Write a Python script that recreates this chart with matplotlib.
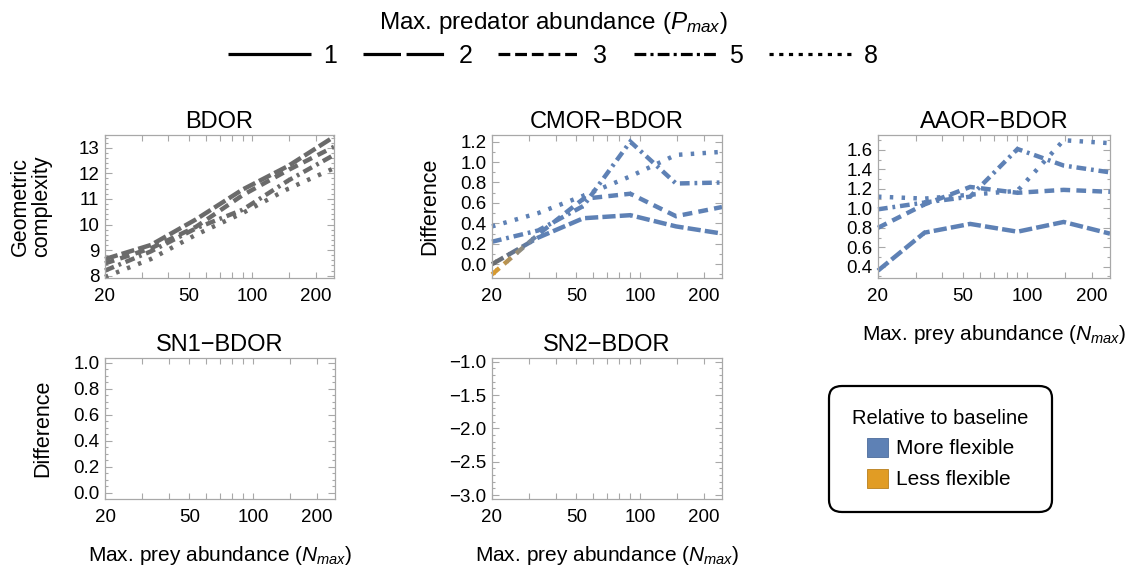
import numpy as np
import matplotlib
matplotlib.use('Agg')
import matplotlib.pyplot as plt
from matplotlib.lines import Line2D
from matplotlib.patches import Patch, Rectangle
from matplotlib.ticker import MultipleLocator, FixedLocator, FixedFormatter, FuncFormatter, NullLocator
from matplotlib.colors import to_rgb

plt.rcParams['font.family'] = ['Liberation Sans', 'DejaVu Sans']
plt.rcParams['mathtext.fontset'] = 'custom'
plt.rcParams['mathtext.rm'] = 'Liberation Sans'
plt.rcParams['mathtext.it'] = 'Liberation Sans:italic'
plt.rcParams['lines.scale_dashes'] = False

# ---- data ----
N_VALUES = [20, 33, 54, 90, 148, 244]          # max. prey abundance
P_LEVELS = [1, 2, 3, 5, 8]                      # max. predator abundance
X_TICKS = [20, 30, 40, 50, 60, 70, 80, 90, 100, 150, 200]
X_TICK_LABELS = ['20', '', '', '50', '', '', '', '', '100', '', '200']

# BDOR: geometric complexity (P=1 is not drawn in any panel)
bdor_p2 = [8.65, 9.20, 10.20, 11.37, 12.29, 13.43]
bdor_p3 = [8.48, 9.07, 9.91, 11.15, 12.13, 13.04]
bdor_p5 = [8.20, 8.95, 9.85, 10.58, 11.72, 12.72]
bdor_p8 = [7.95, 8.65, 9.60, 10.45, 11.40, 12.20]

# CMOR - BDOR differences
cmor_p2 = [0.00, 0.26, 0.45, 0.48, 0.37, 0.30]
cmor_p3 = [-0.10, 0.29, 0.64, 0.69, 0.47, 0.56]
cmor_p5 = [0.22, 0.33, 0.57, 1.20, 0.79, 0.80]
cmor_p8 = [0.37, 0.50, 0.67, 0.86, 1.07, 1.10]

# AAOR - BDOR differences
aaor_p2 = [0.36, 0.75, 0.84, 0.76, 0.86, 0.74]
aaor_p3 = [0.80, 1.04, 1.22, 1.16, 1.19, 1.17]
aaor_p5 = [0.99, 1.06, 1.12, 1.61, 1.44, 1.37]
aaor_p8 = [1.12, 1.10, 1.14, 1.18, 1.70, 1.67]

BLUE = '#5e81b5'
ORANGE = '#e19c24'
GRAY = '#6b6b6b'
FRAME = '#a8a8a8'

# dash patterns in points (panel lines / legend lines)
LINE_DASH = {2: (9.5, 3.0), 3: (7.0, 4.5), 5: (7.0, 3.5, 2.0, 3.5), 8: (2.5, 6.0)}
LEGEND_DASH = {1: None, 2: (27, 4), 3: (8.5, 3.5), 5: (8.5, 3, 2.2, 3), 8: (3, 4)}

W, H = 1133, 571
fig = plt.figure(figsize=(W / 100, H / 100), dpi=100)


def add_panel(left, top, right, bottom):
    return fig.add_axes([left / W, 1 - bottom / H, (right - left) / W, (bottom - top) / H])


def point_color(v, baseline):
    if baseline:
        return GRAY
    if v > 0.05:
        return BLUE
    if v < -0.05:
        return ORANGE
    return GRAY


def draw_series(ax, y, p, baseline=False):
    cols = [np.array(to_rgb(point_color(v, baseline))) for v in y]
    # colour can shift between two points -> draw clipped copies in thin strips
    for i in range(len(N_VALUES) - 1):
        n = 1 if np.allclose(cols[i], cols[i + 1]) else 14
        edges = np.geomspace(N_VALUES[i], N_VALUES[i + 1], n + 1)
        for k in range(n):
            t = (k + 0.5) / n
            c = (1 - t) * cols[i] + t * cols[i + 1]
            line, = ax.plot(N_VALUES, y, color=c, lw=3.2, dashes=LINE_DASH[p],
                            dash_capstyle='butt', dash_joinstyle='miter')
            x0 = edges[k] * (0.9 if k == 0 and i == 0 else 1.0)
            x1 = edges[k + 1] * (1.2 if (k == n - 1 and i == len(N_VALUES) - 2) else 1.003)
            strip = Rectangle((x0, -1), x1 - x0, 3, transform=ax.get_xaxis_transform())
            line.set_clip_path(strip)


def style_axes(ax, ylim, major, minor, fmt):
    ax.set_xscale('log')
    ax.set_xlim(N_VALUES[0], N_VALUES[-1])
    ax.xaxis.set_major_locator(FixedLocator(X_TICKS))
    ax.xaxis.set_major_formatter(FixedFormatter(X_TICK_LABELS))
    ax.xaxis.set_minor_locator(NullLocator())
    ax.set_ylim(*ylim)
    ax.yaxis.set_major_locator(MultipleLocator(major))
    ax.yaxis.set_minor_locator(MultipleLocator(minor))
    ax.yaxis.set_major_formatter(FuncFormatter(lambda v, _: (fmt % v).replace('-', '\u2212')))
    ax.tick_params(axis='both', which='both', direction='in', top=True, right=True,
                   color=FRAME, labelsize=13.5, width=0.8)
    ax.tick_params(axis='x', which='major', length=4, pad=7)
    ax.tick_params(axis='y', which='major', length=5, pad=4)
    ax.tick_params(axis='y', which='minor', length=2.5)
    for s in ax.spines.values():
        s.set_color(FRAME)
        s.set_linewidth(0.9)


ax_bdor = add_panel(105, 135, 334, 278)
ax_cmor = add_panel(492, 135, 722, 278)
ax_aaor = add_panel(878, 135, 1110, 278)
ax_sn1 = add_panel(105, 358, 335, 499)
ax_sn2 = add_panel(492, 358, 722, 499)

style_axes(ax_bdor, (7.91, 13.5), 1, 0.2, '%d')
style_axes(ax_cmor, (-0.135, 1.265), 0.2, 0.1, '%.1f')
style_axes(ax_aaor, (0.284, 1.754), 0.2, 0.1, '%.1f')
style_axes(ax_sn1, (-0.048, 1.036), 0.2, 0.05, '%.1f')
style_axes(ax_sn2, (-3.06, -0.945), 0.5, 0.1, '%.1f')

for p, y in zip([2, 3, 5, 8], [bdor_p2, bdor_p3, bdor_p5, bdor_p8]):
    draw_series(ax_bdor, y, p, baseline=True)
for p, y in zip([2, 3, 5, 8], [cmor_p2, cmor_p3, cmor_p5, cmor_p8]):
    draw_series(ax_cmor, y, p)
for p, y in zip([2, 3, 5, 8], [aaor_p2, aaor_p3, aaor_p5, aaor_p8]):
    draw_series(ax_aaor, y, p)

titles = ['BDOR', 'CMOR\u2212BDOR', 'AAOR\u2212BDOR', 'SN1\u2212BDOR', 'SN2\u2212BDOR']
for ax, t in zip([ax_bdor, ax_cmor, ax_aaor, ax_sn1, ax_sn2], titles):
    ax.set_title(t, fontsize=17, pad=5)

for ax in [ax_aaor, ax_sn1, ax_sn2]:
    ax.set_xlabel('Max. prey abundance ($N_{max}$)', fontsize=15, labelpad=13)

ax_bdor.set_ylabel('Geometric\ncomplexity', fontsize=15.5, linespacing=1.05)
ax_bdor.yaxis.set_label_coords(-0.23, 0.5)
for ax in [ax_cmor, ax_sn1]:
    ax.set_ylabel('Difference', fontsize=15.5)
    ax.yaxis.set_label_coords(-0.226, 0.5)

# top legend: line styles for predator abundance
handles = []
for p in P_LEVELS:
    if LEGEND_DASH[p] is None:
        handles.append(Line2D([], [], color='black', lw=2.3, solid_capstyle='butt'))
    else:
        handles.append(Line2D([], [], color='black', lw=2.3, dashes=LEGEND_DASH[p],
                              dash_capstyle='butt'))
fig.legend(handles, [str(p) for p in P_LEVELS], loc='upper center',
           bbox_to_anchor=(553 / W, 1.008), ncol=5, frameon=False, fontsize=18,
           title='Max. predator abundance ($P_{max}$)', title_fontsize=17.5,
           handlelength=3.3, handletextpad=0.5, columnspacing=1.05,
           labelspacing=0.3, borderpad=0.1)

# bottom-right legend: colour meaning
col_handles = [Patch(facecolor=BLUE, edgecolor='#4d6c9c', lw=0.6),
               Patch(facecolor=ORANGE, edgecolor='#b97f1c', lw=0.6)]
leg = fig.legend(col_handles, ['More flexible', 'Less flexible'], loc='center',
                 bbox_to_anchor=(940.5 / W, 1 - 449 / H), title='Relative to baseline',
                 title_fontsize=14.5, fontsize=15, handlelength=1.0, handleheight=1.0,
                 handletextpad=0.4, labelspacing=0.5, borderpad=1.1,
                 fancybox=True, framealpha=1)
frame = leg.get_frame()
frame.set_edgecolor('black')
frame.set_linewidth(1.6)
frame.set_boxstyle('round,pad=0,rounding_size=0.6')

fig.savefig('out.png', dpi=100)
